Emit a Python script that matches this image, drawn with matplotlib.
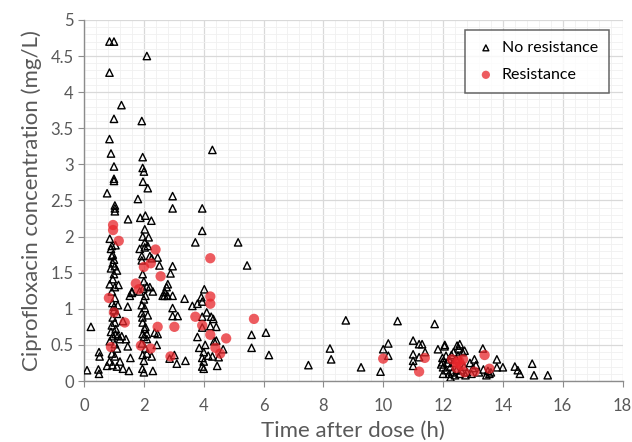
import matplotlib
matplotlib.use('Agg')
import matplotlib.pyplot as plt
from matplotlib.ticker import MultipleLocator, FormatStrFormatter

# No resistance (open triangles): time after dose (h), concentration (mg/L)
nores_t = [0.1, 0.23, 0.5, 0.52, 0.48, 0.5,
           0.85, 1.0, 0.85, 1.25, 1.0, 0.85, 0.9, 1.0, 1.0, 1.0, 0.77, 1.03, 1.03, 1.03,
           0.86, 0.93, 0.9, 0.96, 0.93, 0.96, 0.9, 1.03, 0.86, 0.96, 1.03, 0.93, 1.03, 1.13,
           0.96, 1.03, 0.93, 1.06, 0.96, 0.86, 1.03, 0.93, 1.03, 0.77, 0.95, 1.1, 1.2, 0.85,
           1.0, 1.1, 0.95, 1.0, 1.05, 1.1, 0.9, 1.0, 1.05, 1.0, 1.15, 1.1, 1.2,
           1.47, 1.53, 1.46, 1.6, 1.26, 1.46, 1.3, 1.13, 1.4, 1.3, 1.55, 1.5,
           2.1, 1.93, 1.96, 1.96, 2.0, 1.97, 2.13, 1.8, 1.88, 2.05, 2.25,
           2.03, 1.96, 2.03, 2.16, 1.86, 2.03, 2.13, 1.93, 2.2, 2.46,
           2.26, 2.52, 1.93, 1.96, 2.1, 2.2, 2.3, 2.7, 2.76, 1.6, 1.86, 1.93, 2.03, 1.93,
           2.13, 1.96, 2.03, 1.96, 2.1, 1.93, 2.36, 2.1, 1.96, 2.26, 2.86, 1.95, 2.3, 2.0,
           2.0, 2.05, 2.0, 1.95, 2.05, 2.0, 2.05, 2.0, 2.1, 1.98,
           2.96, 2.96, 2.96, 2.89, 2.8, 2.69, 2.79, 2.96, 3.36, 2.96, 2.96, 3.13, 2.46,
           2.43, 3.02, 3.39, 3.1, 2.63,
           4.29, 3.95, 3.95, 3.72, 5.15, 5.45, 3.62, 3.79, 3.95, 4.02, 3.92, 3.95, 4.25,
           4.32, 3.95, 4.22, 4.42, 3.79, 4.42, 5.6, 6.08, 5.6, 6.18, 3.85, 4.65, 3.95,
           4.0, 3.95, 4.0, 4.29, 4.45, 4.5, 4.0, 4.05, 4.1, 4.15, 4.35,
           7.5, 8.22, 8.26, 8.75, 9.26, 9.91, 10.0, 10.17, 10.17, 10.48,
           11.0, 11.2, 11.3, 11.0, 11.0, 11.0, 11.2, 11.4, 11.72, 11.83, 12.06, 11.98,
           11.98, 11.94, 12.0,
           12.28, 12.2, 12.47, 12.56, 12.72, 12.05, 12.53, 12.1, 12.2, 12.25, 12.3,
           12.35, 12.4, 12.45, 12.5, 12.55, 12.6, 12.65, 12.7, 12.8, 12.9, 13.0, 13.05,
           12.15, 12.35, 12.0, 12.1, 12.25, 12.45, 12.75, 12.95,
           13.33, 13.8, 13.35, 13.55, 13.8, 14.0, 14.4, 14.5, 14.57, 14.98, 15.04,
           15.5, 13.1, 13.2, 13.45, 13.5, 13.6]
nores_c = [0.15, 0.75, 0.4, 0.34, 0.16, 0.1,
           4.7, 4.7, 4.27, 3.82, 3.63, 3.35, 3.15, 2.97, 2.8, 2.77, 2.6, 2.43, 2.39, 2.35,
           1.97, 1.87, 1.83, 1.75, 1.73, 1.63, 1.56, 1.59, 1.34, 1.41, 1.3, 1.24, 1.15, 1.05,
           0.88, 0.81, 0.77, 0.72, 0.62, 0.55, 0.51, 0.38, 0.34, 0.21, 0.22, 0.2, 0.27, 0.27,
           1.48, 1.53, 1.08, 0.98, 0.65, 0.45, 0.68, 1.68, 1.88, 1.03, 1.33, 0.93, 0.58,
           2.24, 1.18, 1.03, 1.22, 0.62, 0.48, 0.83, 0.63, 0.58, 0.17, 0.32, 0.14,
           4.5, 3.6, 3.1, 2.95, 2.9, 2.76, 2.67, 2.52, 2.26, 2.29, 2.22,
           2.1, 2.0, 1.92, 1.99, 1.83, 1.85, 1.87, 1.73, 1.73, 1.71,
           1.7, 1.6, 1.67, 1.48, 1.31, 1.3, 1.24, 1.23, 1.3, 1.24, 1.24, 1.05, 1.01, 0.94,
           0.91, 0.81, 0.72, 0.65, 0.58, 0.52, 0.67, 0.38, 0.36, 0.34, 0.31, 0.17, 0.14, 0.12,
           1.38, 1.18, 1.13, 0.88, 0.75, 0.61, 0.45, 0.28, 0.65, 1.28,
           2.56, 2.39, 1.59, 1.49, 1.34, 1.18, 1.18, 1.18, 1.14, 1.01, 0.9, 0.9, 0.65,
           0.5, 0.36, 0.28, 0.24, 1.18,
           3.2, 2.39, 2.08, 1.92, 1.92, 1.6, 1.04, 1.07, 1.1, 1.27, 1.16, 0.89, 0.89,
           0.86, 0.74, 0.76, 0.75, 0.61, 0.56, 0.64, 0.67, 0.46, 0.36, 0.46, 0.44, 0.32,
           0.27, 0.2, 0.17, 0.34, 0.21, 0.33, 0.4, 0.5, 0.95, 0.35, 0.55,
           0.22, 0.45, 0.3, 0.84, 0.19, 0.13, 0.44, 0.52, 0.35, 0.83,
           0.56, 0.51, 0.51, 0.37, 0.28, 0.21, 0.33, 0.4, 0.79, 0.44, 0.5, 0.32,
           0.26, 0.23, 0.19,
           0.36, 0.3, 0.49, 0.51, 0.42, 0.48, 0.45, 0.15, 0.1, 0.2, 0.12,
           0.25, 0.08, 0.15, 0.35, 0.1, 0.15, 0.4, 0.2, 0.12, 0.25, 0.18, 0.3,
           0.25, 0.4, 0.1, 0.35, 0.05, 0.3, 0.08, 0.1,
           0.45, 0.3, 0.16, 0.1, 0.19, 0.19, 0.2, 0.15, 0.1, 0.24, 0.08,
           0.08, 0.22, 0.12, 0.08, 0.14, 0.12]

# Resistance (red circles)
res_t = [0.97, 0.97, 1.16, 2.39, 2.0, 2.23, 2.56, 1.73, 1.83, 0.83, 1.0, 1.36, 2.46,
         0.9, 1.9, 2.23, 4.22, 4.22, 4.22, 3.72, 5.68, 3.02, 3.95, 4.22, 4.75, 4.39,
         4.55, 2.89, 10.0, 11.39, 12.53, 12.67, 12.47, 12.6, 13.39, 11.2, 12.72, 13.05,
         13.55, 12.3, 12.45]
res_c = [2.16, 2.09, 1.94, 1.82, 1.58, 1.63, 1.45, 1.35, 1.27, 1.15, 0.95, 0.81, 0.75,
         0.47, 0.49, 0.45, 1.7, 1.17, 1.07, 0.89, 0.86, 0.75, 0.77, 0.64, 0.59, 0.46,
         0.38, 0.34, 0.31, 0.32, 0.28, 0.3, 0.25, 0.22, 0.36, 0.13, 0.12, 0.13,
         0.17, 0.3, 0.18]

plt.rcParams['font.family'] = ['Lato', 'DejaVu Sans']

fig = plt.figure(figsize=(6.32, 4.42), dpi=100)
ax = fig.add_axes([0.133, 0.138, 0.852, 0.817])

ax.scatter(nores_t, nores_c, marker='^', s=28, facecolors='none', edgecolors='black',
           linewidths=1.0, label='No resistance', zorder=3)
ax.scatter(res_t, res_c, marker='o', s=55, color='#e8262b', alpha=0.75,
           edgecolors='none', label='Resistance', zorder=4)

ax.set_xlim(0, 18)
ax.set_ylim(0, 5)
ax.xaxis.set_major_locator(MultipleLocator(2))
ax.xaxis.set_minor_locator(MultipleLocator(0.4))
ax.yaxis.set_major_locator(MultipleLocator(0.5))
ax.yaxis.set_minor_locator(MultipleLocator(0.1))
ax.yaxis.set_major_formatter(FormatStrFormatter('%g'))

ax.grid(which='major', color='#d9d9d9', linewidth=0.9, zorder=0)
ax.grid(which='minor', color='#f0f0f0', linewidth=0.6, zorder=0)
ax.set_axisbelow(True)

for s in ['top', 'right']:
    ax.spines[s].set_visible(False)
for s in ['left', 'bottom']:
    ax.spines[s].set_color('#8c8c8c')
    ax.spines[s].set_linewidth(1.0)

ax.tick_params(which='major', length=4, color='#8c8c8c', labelsize=12, labelcolor='#595959')
ax.tick_params(axis='x', which='major', pad=8)
ax.tick_params(which='minor', length=0)

ax.set_xlabel('Time after dose (h)', fontsize=16, color='#595959', labelpad=5)
ax.set_ylabel('Ciprofloxacin concentration (mg/L)', fontsize=16, color='#595959', labelpad=6)

leg = ax.legend(loc='upper right', bbox_to_anchor=(0.99, 0.995), fontsize=11.5,
                frameon=True, fancybox=False, borderpad=0.7, labelspacing=0.8,
                handletextpad=0.4, handlelength=1.2, markerscale=0.8)
leg.get_frame().set_edgecolor('#404040')
leg.get_frame().set_linewidth(1.1)

fig.savefig('out.png', dpi=100)
